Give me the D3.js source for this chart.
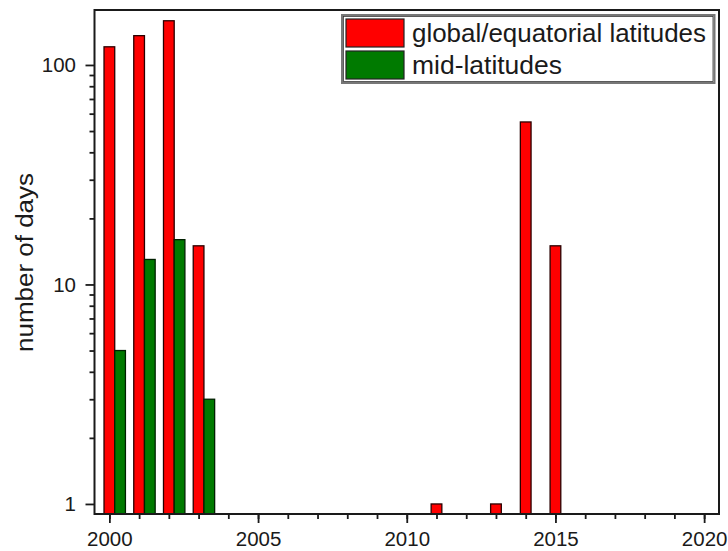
<!DOCTYPE html>
<html>
<head>
<meta charset="utf-8">
<script src="https://cdn.jsdelivr.net/npm/d3@7"></script>
<style>
  html, body { margin: 0; padding: 0; background: #fff; }
  svg { display: block; }
  text { font-family: "Liberation Sans", Arial, sans-serif; fill: #1a1a1a; }
</style>
</head>
<body>
<svg id="chart" width="728" height="551"></svg>
<script>
// Days per year with events, by latitude band
const globalYears = [2000, 2001, 2002, 2003, 2011, 2013, 2014, 2015];
const globalDays  = [121, 136, 159, 15, 1, 1, 55, 15];
const midYears    = [2000, 2001, 2002, 2003];
const midDays     = [5, 13, 16, 3];

const seriesNames = ["global/equatorial latitudes", "mid-latitudes"];
const xTickLabels = [2000, 2005, 2010, 2015, 2020];
const yTickLabels = [1, 10, 100];

const svg = d3.select("#chart");
const margin = { left: 94.5, right: 9, top: 10, bottom: 37 };
const W = 728, H = 551;
const plotL = margin.left, plotR = W - margin.right;
const plotT = margin.top, plotB = H - margin.bottom;

const x = d3.scaleLinear().domain([1999.5, 2020.5]).range([plotL, plotR]);
const y = d3.scaleLog().domain([0.9, 178]).range([plotB, plotT]);

const barW = 0.36; // in years
const red = "#ff0000", green = "#007a00";

// bars
const gBars = svg.append("g");
gBars.selectAll("rect.g")
  .data(globalYears.map((yr, i) => ({ yr, v: globalDays[i] })))
  .join("rect")
  .attr("x", d => x(d.yr - barW / 2))
  .attr("width", d => x(d.yr + barW / 2) - x(d.yr - barW / 2))
  .attr("y", d => y(d.v))
  .attr("height", d => plotB - y(d.v))
  .attr("fill", red)
  .attr("stroke", "#2a0000")
  .attr("stroke-width", 1.3);

gBars.selectAll("rect.m")
  .data(midYears.map((yr, i) => ({ yr, v: midDays[i] })))
  .join("rect")
  .attr("x", d => x(d.yr + barW / 2))
  .attr("width", d => x(d.yr + barW * 1.5) - x(d.yr + barW / 2))
  .attr("y", d => y(d.v))
  .attr("height", d => plotB - y(d.v))
  .attr("fill", green)
  .attr("stroke", "#002000")
  .attr("stroke-width", 1.3);

// axes
const minorY = [];
[1, 10, 100].forEach(dec => { for (let k = 2; k <= 9; k++) if (dec * k < 178) minorY.push(dec * k); });

const yMinor = d3.axisLeft(y).tickValues(minorY).tickSize(5).tickFormat("");
const yMajor = d3.axisLeft(y).tickValues(yTickLabels).tickSize(9).tickPadding(9.5).tickFormat(d3.format("d"));
const years = d3.range(2000, 2021);
const xMinor = d3.axisBottom(x).tickValues(years).tickSize(5).tickFormat("");
const xMajor = d3.axisBottom(x).tickValues(xTickLabels).tickSize(9).tickPadding(8).tickFormat(d3.format("d"));

function styleAxis(g) {
  g.select(".domain").remove();
  g.selectAll(".tick line").attr("stroke", "#1a1a1a").attr("stroke-width", 1.8);
  g.selectAll(".tick text").attr("font-size", 20.5).attr("fill", "#1a1a1a")
    .attr("font-family", "Liberation Sans, Arial, sans-serif");
}

svg.append("g").attr("transform", `translate(${plotL},0)`).call(yMinor).call(styleAxis);
svg.append("g").attr("transform", `translate(${plotL},0)`).call(yMajor).call(styleAxis);
svg.append("g").attr("transform", `translate(0,${plotB})`).call(xMinor).call(styleAxis);
svg.append("g").attr("transform", `translate(0,${plotB})`).call(xMajor).call(styleAxis);

// frame
svg.append("rect")
  .attr("x", plotL).attr("y", plotT)
  .attr("width", plotR - plotL).attr("height", plotB - plotT)
  .attr("fill", "none").attr("stroke", "#1a1a1a").attr("stroke-width", 2);

// y label
svg.append("text")
  .attr("transform", `translate(25,${(173 + 352) / 2}) rotate(-90)`)
  .attr("text-anchor", "middle")
  .attr("dominant-baseline", "central")
  .attr("font-size", 23.5)
  .attr("textLength", 179)
  .attr("lengthAdjust", "spacingAndGlyphs")
  .text("number of days");

// legend
const leg = svg.append("g");
leg.append("rect")
  .attr("x", 342).attr("y", 15).attr("width", 372.5).attr("height", 68)
  .attr("fill", "#fff").attr("stroke", "#777").attr("stroke-width", 2);
leg.append("rect")
  .attr("x", 343.5).attr("y", 16.5).attr("width", 369.5).attr("height", 65)
  .attr("fill", "none").attr("stroke", "#333").attr("stroke-width", 0.8);

const legColors = [red, green];
const legWidths = [294, 150];
seriesNames.forEach((name, i) => {
  const cy = 33 + i * 32;
  leg.append("rect")
    .attr("x", 346).attr("y", cy - 14).attr("width", 58).attr("height", 28)
    .attr("fill", legColors[i]).attr("stroke", "#222").attr("stroke-width", 1.2);
  leg.append("text")
    .attr("x", 412).attr("y", cy)
    .attr("dominant-baseline", "central")
    .attr("font-size", 25)
    .attr("textLength", legWidths[i])
    .attr("lengthAdjust", "spacingAndGlyphs")
    .text(name);
});
</script>
</body>
</html>
